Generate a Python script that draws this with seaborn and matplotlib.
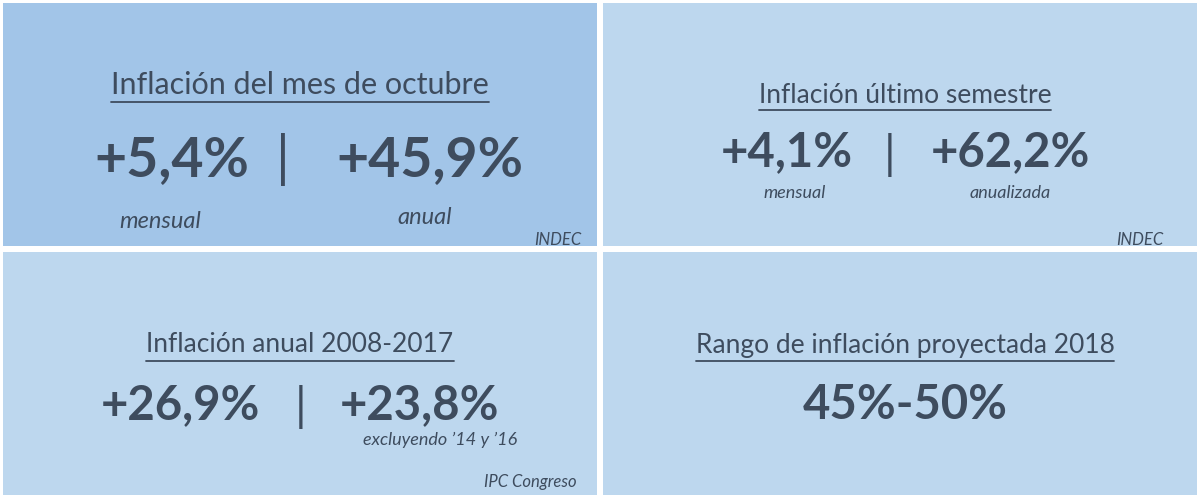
import matplotlib
matplotlib.use("Agg")
import matplotlib.pyplot as plt
from matplotlib.colors import ListedColormap
import seaborn as sns
import numpy as np

sns.set_theme(style="white")
plt.rcParams['font.family'] = ['Lato', 'DejaVu Sans']

panel_shade = [[1, 0], [0, 0]]
titles = ["Inflación del mes de octubre", "Inflación último semestre",
          "Inflación anual 2008-2017", "Rango de inflación proyectada 2018"]
values = [["+5,4%", "+45,9%"], ["+4,1%", "+62,2%"], ["+26,9%", "+23,8%"], ["45%-50%"]]
notes = [["mensual", "anual"], ["mensual", "anualizada"], ["", "excluyendo \u201914 y \u201916"], []]
sources = ["INDEC", "INDEC", "IPC Congreso", ""]

W, H = 1200, 498
fig = plt.figure(figsize=(12, 4.98), dpi=100)
ax = fig.add_axes([0, 0, 1, 1])
sns.heatmap(np.array(panel_shade), cmap=ListedColormap(["#bdd7ee", "#a2c5e8"]),
            cbar=False, linewidths=3, linecolor="white", ax=ax,
            xticklabels=False, yticklabels=False)
ax.set_axis_off()

C = "#3e4c5e"
def T(x, y, s, size, **kw):
    return fig.text(x / W, 1 - y / H, s, fontsize=size, color=C, ha="center", va="center", **kw)

def title(x, y, s, size):
    t = T(x, y, s, size)
    fig.canvas.draw()
    bb = t.get_window_extent()
    yy = bb.y0 - 3
    fig.add_artist(plt.Line2D([bb.x0 / W, bb.x1 / W], [yy / H, yy / H], color=C, lw=1.3))

title(300, 85, titles[0], 22)
T(172, 160, values[0][0], 40, weight="bold")
T(283, 160, "|", 40)
T(430, 160, values[0][1], 40, weight="bold")
T(160, 222, notes[0][0], 17, style="italic")
T(425, 217, notes[0][1], 17, style="italic")
T(558, 240, sources[0], 12, style="italic")

title(905, 95, titles[1], 19)
T(787, 152, values[1][0], 34, weight="bold")
T(890, 155, "|", 34)
T(1010, 152, values[1][1], 34, weight="bold")
T(795, 193, notes[1][0], 13, style="italic")
T(1010, 193, notes[1][1], 13, style="italic")
T(1140, 240, sources[1], 12, style="italic")

title(300, 345, titles[2], 19)
T(180, 405, values[2][0], 34, weight="bold")
T(301, 407, "|", 34)
T(420, 405, values[2][1], 34, weight="bold")
T(440, 440, notes[2][1], 13, style="italic")
T(530, 482, sources[2], 12, style="italic")

title(905, 345, titles[3], 19)
T(905, 405, values[3][0], 34, weight="bold")

fig.savefig("out.png", dpi=100)
